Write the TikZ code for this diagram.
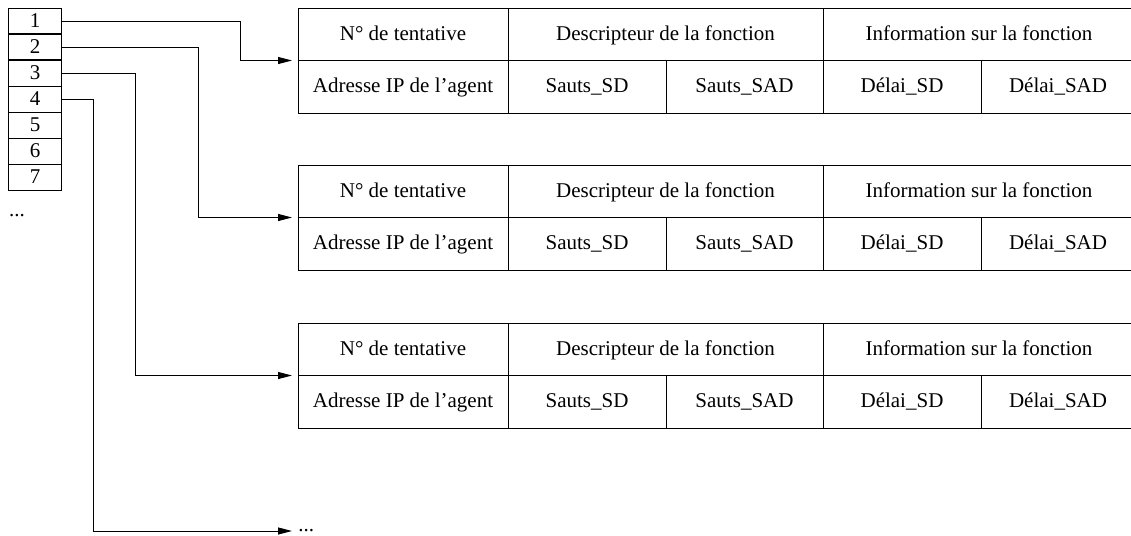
\documentclass[tikz,border=0pt]{standalone}
\usepackage{fontspec}
\setmainfont{Liberation Serif}
\usetikzlibrary{positioning,arrows.meta}
\tikzset{
    case/.style={draw,line width=0.5pt,minimum width=26.5pt,minimum height=13pt,inner sep=0pt,outer sep=0pt},
    champ/.style={draw,line width=0.5pt,minimum height=26.25pt,inner sep=0pt,outer sep=0pt,text height=7.6pt,text depth=1.6pt},
    lien/.style={line width=0.5pt,-{Triangle[length=7pt,width=3.5pt]},shorten >=3pt}
}

\begin{document}
\begin{tikzpicture}[x=0.5pt,y=-0.5pt,font=\fontsize{10.5}{12.6}\selectfont]
                \useasboundingbox (0,0) rectangle (1131,536);
                \node[case] (c1) at (35,21) {1};
                \foreach \n [remember=\n as \p (initially 1)] in {2,...,7}
                    \node[case,below=0pt of c\p] (c\n) {\n};
                \draw[line width=0.9pt] (c2.north west) rectangle (c2.south east);
                \node (etc) at (17,216) {...};
                \foreach \t/\y in {1/8,2/165,3/323}{
                    \node[champ,anchor=north west,minimum width=105pt] (t\t-num) at (298,\y) {N° de tentative};
                    \node[champ,right=0pt of t\t-num,minimum width=157.5pt] (t\t-desc) {Descripteur de la fonction};
                    \node[champ,right=0pt of t\t-desc,minimum width=156pt] (t\t-info) {Information sur la fonction};
                    \node[champ,below=0pt of t\t-num,minimum width=105pt] (t\t-ip) {Adresse IP de l'agent};
                    \node[champ,right=0pt of t\t-ip,minimum width=79pt] (t\t-ssd) {Sauts\_SD};
                    \node[champ,right=0pt of t\t-ssd,minimum width=78.5pt] (t\t-ssad) {Sauts\_SAD};
                    \node[champ,right=0pt of t\t-ssad,minimum width=79pt] (t\t-dsd) {Délai\_SD};
                    \node[champ,right=0pt of t\t-dsd,minimum width=77pt] (t\t-dsad) {Délai\_SAD};
                }
                \node[inner sep=0pt,anchor=west] (suite) at (298,531) {...};
                \draw[lien] (c1.east) -- ++(178.5,0) |- (t1-num.south west);
                \draw[lien] (c2.east) -- ++(136.5,0) |- (t2-num.south west);
                \draw[lien] (c3.east) -- ++(73.5,0) |- (t3-num.south west);
                \draw[lien] (c4.east) -- ++(31.5,0) |- (suite.west);
            \end{tikzpicture}
\end{document}
